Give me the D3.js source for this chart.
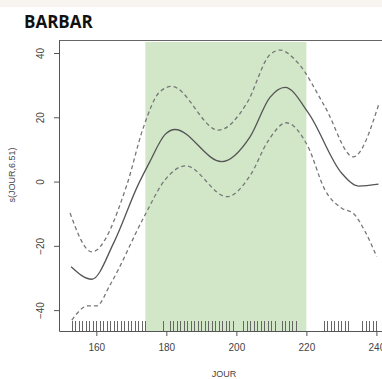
<!DOCTYPE html>
<html>
<head>
<meta charset="utf-8">
<script src="https://cdn.jsdelivr.net/npm/d3@7"></script>
<style>
  body { margin: 0; background: #fff; }
  .tick-label { font-family: 'Liberation Sans', Arial, sans-serif; font-size: 10px; fill: #444; }
</style>
</head>
<body>
<div id="chart"></div>
<script>
// Smooth term s(JOUR) with confidence band
const days  = [152.8, 158.7, 165, 171.9, 175.3, 179.6, 182.5, 195.8, 203.9, 209.6, 213.9, 220.6, 230.1, 234.9, 240.6]
const fit   = [-26.5, -30.4, -19, -1.1, 6.2, 14.6, 16.2, 6.2, 13.9, 26.2, 29.3, 21.3, 2.6, -1.4, -0.8]

const upperDays = [152.5, 158.7, 168.7, 173.4, 178, 181.5, 194.9, 203, 209.6, 212.5, 217.6, 225.3, 233.4, 240.6]
const upper     = [-9.8, -21.9, -1.1, 16.7, 27.8, 29.6, 16, 24.4, 39.5, 40.9, 36.9, 23.3, 7.7, 23.8]

const lowerDays = [153, 157.6, 160.1, 163.9, 173.9, 179.6, 185.5, 197.3, 204, 209, 214.2, 220.5, 225.3, 230.1, 233.4, 236.8, 240.1]
const lower     = [-43.1, -38.7, -38.7, -32.2, -10.4, 0.5, 4.9, -4.7, 2, 12.5, 18.3, 10.8, -2.6, -8.3, -9.9, -15.6, -23.4]

// observed days (rug)
const rugDays = [153, 154, 155, 156, 157, 158, 159, 160, 161, 162, 163, 164, 165, 166, 167, 168, 169, 170, 171, 172, 173, 174,
  179, 181, 182, 183, 184, 185, 186, 187, 188, 189, 190, 191, 192, 193, 194, 195, 196, 197, 198, 199,
  202, 203, 204, 205, 206, 207, 208, 209, 210, 211, 213, 214, 215, 216, 217,
  225, 226, 227, 228, 229, 230, 231, 232, 236, 237, 238, 239, 240]

const period = [174, 220]
const xTicks = [160, 180, 200, 220, 240]
const yTicks = [-40, -20, 0, 20, 40]

let W = 382, H = 379

let svg = d3.select('#chart').append('svg')
  .attr('width', W)
  .attr('height', H)

// top strip
svg.append('rect')
  .attr('x', 0).attr('y', 0).attr('width', W).attr('height', 7)
  .attr('fill', '#f8f4f0')

svg.append('text')
  .attr('x', 24).attr('y', 28)
  .style('font-family', "'Open Sans', sans-serif")
  .style('font-weight', 700)
  .style('font-size', '17px')
  .attr('fill', '#111')
  .text('BARBAR')

let x = d3.scaleLinear().domain([149.34, 243.6]).range([59, 389])
let y = d3.scaleLinear().domain([-46.5, 44.05]).range([331, 40])

// highlighted period
svg.append('rect')
  .attr('x', x(period[0]))
  .attr('y', 42)
  .attr('width', x(period[1]) - x(period[0]))
  .attr('height', 331 - 42)
  .attr('fill', '#d1e7c8')

// frame: top line
svg.append('line')
  .attr('x1', 59).attr('x2', W).attr('y1', 40.5).attr('y2', 40.5)
  .attr('stroke', '#666').attr('stroke-width', 1.2)

let line = d3.line().curve(d3.curveMonotoneX)

svg.append('path')
  .attr('d', line(days.map((d, i) => [x(d), y(fit[i])])))
  .attr('fill', 'none').attr('stroke', '#555').attr('stroke-width', 1.3)

svg.append('path')
  .attr('d', line(upperDays.map((d, i) => [x(d), y(upper[i])])))
  .attr('fill', 'none').attr('stroke', '#777').attr('stroke-width', 1.3)
  .attr('stroke-dasharray', '4,3')

svg.append('path')
  .attr('d', line(lowerDays.map((d, i) => [x(d), y(lower[i])])))
  .attr('fill', 'none').attr('stroke', '#777').attr('stroke-width', 1.3)
  .attr('stroke-dasharray', '4,3')

// rug
svg.append('g')
  .selectAll('line')
  .data(rugDays)
  .join('line')
  .attr('x1', d => Math.round(x(d)) + 0.5)
  .attr('x2', d => Math.round(x(d)) + 0.5)
  .attr('y1', 331).attr('y2', 321)
  .attr('stroke', '#666').attr('stroke-width', 1)

// axes
let xAxis = d3.axisBottom(x).tickValues(xTicks).tickSize(5).tickSizeOuter(0)
let gx = svg.append('g')
  .attr('transform', 'translate(0,331)')
  .call(xAxis)
gx.select('.domain').attr('stroke', '#555')
gx.selectAll('.tick line').attr('stroke', '#555')
gx.selectAll('.tick text')
  .attr('class', 'tick-label')
  .attr('y', 13)
  .attr('fill', '#444')

let yAxis = d3.axisLeft(y).tickValues(yTicks).tickSize(5).tickSizeOuter(0)
let gy = svg.append('g')
  .attr('transform', 'translate(59,0)')
  .call(yAxis)
gy.select('.domain').attr('stroke', '#555')
gy.selectAll('.tick line').attr('stroke', '#555')
gy.selectAll('.tick text')
  .attr('class', 'tick-label')
  .attr('x', null).attr('dy', null)
  .attr('text-anchor', 'middle')
  .attr('transform', 'translate(-15,0) rotate(-90)')
  .attr('fill', '#444')

svg.selectAll('.tick text').style('font-family', "'Liberation Sans', Arial, sans-serif").style('font-size', '10px')

// axis titles
svg.append('text')
  .attr('class', 'tick-label')
  .attr('x', 224).attr('y', 377)
  .attr('text-anchor', 'middle')
  .style('font-size', '9px')
  .text('JOUR')

svg.append('text')
  .attr('class', 'tick-label')
  .attr('transform', 'translate(15,175) rotate(-90)')
  .attr('text-anchor', 'middle')
  .style('font-size', '9px')
  .text('s(JOUR,6.51)')
</script>
</body>
</html>
